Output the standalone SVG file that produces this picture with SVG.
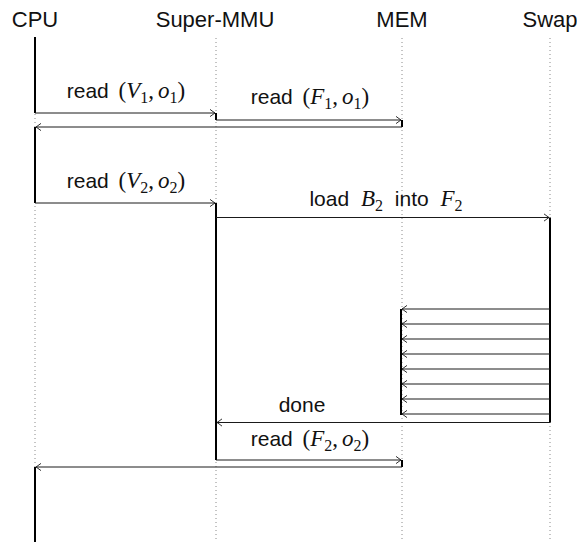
<svg xmlns="http://www.w3.org/2000/svg" width="577" height="542" viewBox="0 0 577 542">
  <style>
    .head { font-family: "Liberation Sans", Arial, sans-serif; font-size: 22px; fill: #111; text-anchor: middle; }
    .lbl { font-family: "Liberation Sans", Arial, sans-serif; font-size: 21px; fill: #111; text-anchor: middle; }
    .m { font-family: "Liberation Serif", "Times New Roman", serif; font-size: 23px; }
    .mi { font-family: "Liberation Serif", "Times New Roman", serif; font-style: italic; font-size: 23px; }
    .sub { font-family: "Liberation Serif", "Times New Roman", serif; font-size: 16px; }
    .life { stroke: #8a8a8a; stroke-width: 1; stroke-dasharray: 1 3; fill: none; }
    .act { stroke: #000; stroke-width: 2; fill: none; }
    .msg { stroke: #1a1a1a; stroke-width: 1; fill: none; marker-end: url(#to); }
  </style>
  <defs>
    <marker id="to" markerUnits="userSpaceOnUse" markerWidth="12" markerHeight="12" refX="0" refY="0" viewBox="-8 -6 10 12" orient="auto">
      <path d="M-5,-3.6 Q-1.5,-1 0,0 Q-1.5,1 -5,3.6" fill="none" stroke="#1a1a1a" stroke-width="0.9"/>
    </marker>
  </defs>
  <rect width="577" height="542" fill="#fff"/>

  <!-- participants: header, lifeline and activation bars -->
  <g id="cpu">
    <text class="head" x="35" y="27">CPU</text>
    <line class="life" x1="35" y1="38" x2="35" y2="542"/>
    <line class="act" x1="35" y1="37" x2="35" y2="113"/>
    <line class="act" x1="35" y1="127" x2="35" y2="203"/>
    <line class="act" x1="35" y1="467" x2="35" y2="542"/>
  </g>
  <g id="super-mmu">
    <text class="head" x="215" y="27">Super-MMU</text>
    <line class="life" x1="216" y1="38" x2="216" y2="542"/>
    <line class="act" x1="216" y1="113" x2="216" y2="120"/>
    <line class="act" x1="216" y1="203" x2="216" y2="460"/>
  </g>
  <g id="mem">
    <text class="head" x="402" y="27">MEM</text>
    <line class="life" x1="402" y1="38" x2="402" y2="542"/>
    <line class="act" x1="402" y1="120" x2="402" y2="127"/>
    <line class="act" x1="401" y1="309" x2="401" y2="415"/>
    <line class="act" x1="402" y1="460" x2="402" y2="467"/>
  </g>
  <g id="swap">
    <text class="head" x="550" y="27">Swap</text>
    <line class="life" x1="550" y1="38" x2="550" y2="542"/>
    <line class="act" x1="550" y1="217.5" x2="550" y2="422.5"/>
  </g>

  <!-- messages -->
  <g id="connectors">
    <line class="msg" x1="35" y1="113" x2="215" y2="113"/>
    <line class="msg" x1="216" y1="120" x2="401" y2="120"/>
    <line class="msg" x1="402" y1="127" x2="36" y2="127"/>
    <line class="msg" x1="35" y1="203" x2="215" y2="203"/>
    <line class="msg" x1="216" y1="217.5" x2="549" y2="217.5"/>
    <line class="msg" x1="550" y1="309" x2="402" y2="309"/>
    <line class="msg" x1="550" y1="324" x2="402" y2="324"/>
    <line class="msg" x1="550" y1="339" x2="402" y2="339"/>
    <line class="msg" x1="550" y1="354" x2="402" y2="354"/>
    <line class="msg" x1="550" y1="369" x2="402" y2="369"/>
    <line class="msg" x1="550" y1="384" x2="402" y2="384"/>
    <line class="msg" x1="550" y1="399" x2="402" y2="399"/>
    <line class="msg" x1="550" y1="414" x2="402" y2="414"/>
    <line class="msg" x1="550" y1="422.5" x2="217" y2="422.5"/>
    <line class="msg" x1="216" y1="460" x2="401" y2="460"/>
    <line class="msg" x1="402" y1="467" x2="36" y2="467"/>
  </g>

  <!-- message labels -->
  <g id="labels">
    <text class="lbl" x="126" y="98">read <tspan class="m" dx="4">(</tspan><tspan class="mi">V</tspan><tspan class="sub" dy="4.5">1</tspan><tspan class="m" dy="-4.5">,</tspan><tspan class="mi" dx="4">o</tspan><tspan class="sub" dy="4.5">1</tspan><tspan class="m" dy="-4.5">)</tspan></text>
    <text class="lbl" x="310" y="104">read <tspan class="m" dx="4">(</tspan><tspan class="mi">F</tspan><tspan class="sub" dy="4.5">1</tspan><tspan class="m" dy="-4.5">,</tspan><tspan class="mi" dx="4">o</tspan><tspan class="sub" dy="4.5">1</tspan><tspan class="m" dy="-4.5">)</tspan></text>
    <text class="lbl" x="126" y="188">read <tspan class="m" dx="4">(</tspan><tspan class="mi">V</tspan><tspan class="sub" dy="4.5">2</tspan><tspan class="m" dy="-4.5">,</tspan><tspan class="mi" dx="4">o</tspan><tspan class="sub" dy="4.5">2</tspan><tspan class="m" dy="-4.5">)</tspan></text>
    <text class="lbl" x="386" y="206">load <tspan class="mi" dx="6">B</tspan><tspan class="sub" dy="4.5">2</tspan><tspan dy="-4.5" dx="6"> into </tspan><tspan class="mi" dx="6">F</tspan><tspan class="sub" dy="4.5">2</tspan></text>
    <text class="lbl" x="302" y="412">done</text>
    <text class="lbl" x="310" y="446">read <tspan class="m" dx="4">(</tspan><tspan class="mi">F</tspan><tspan class="sub" dy="4.5">2</tspan><tspan class="m" dy="-4.5">,</tspan><tspan class="mi" dx="4">o</tspan><tspan class="sub" dy="4.5">2</tspan><tspan class="m" dy="-4.5">)</tspan></text>
  </g>
</svg>
